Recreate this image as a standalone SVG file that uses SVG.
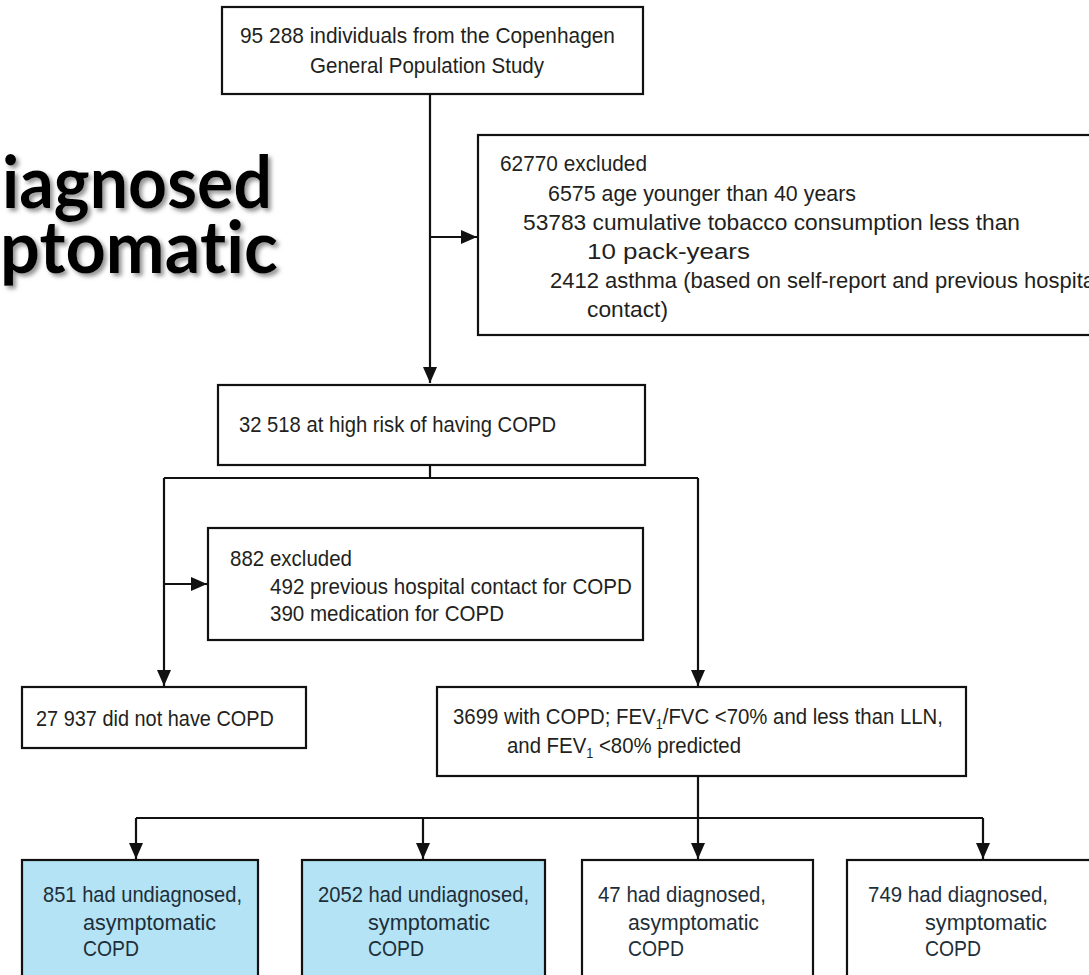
<svg xmlns="http://www.w3.org/2000/svg" width="1089" height="975" viewBox="0 0 1089 975">
<defs>
<style>
.box{fill:#fff;stroke:#111;stroke-width:2.2}
.blue{fill:#b3e3f5;stroke:#111;stroke-width:2.2}
.t{font-family:"Liberation Sans",Arial,sans-serif;font-size:22.5px;fill:#231f20}
.tb{font-family:"Liberation Sans",Arial,sans-serif;font-size:22px;fill:#1e2e38}
.big{font-family:Lato,"Open Sans",sans-serif;font-weight:bold;font-size:72px;fill:#000;font-variant-ligatures:none}
.ln{fill:none;stroke:#111;stroke-width:2.2}
.sub{font-size:14px;fill:#231f20}
</style>
<marker id="ah" markerUnits="userSpaceOnUse" markerWidth="16" markerHeight="16" viewBox="0 0 16 16" refX="16" refY="8" orient="auto">
<path d="M0,1 L16,8 L0,15 Z" fill="#111"/>
</marker>
<filter id="sh" x="-10%" y="-20%" width="130%" height="150%">
<feDropShadow dx="3" dy="3" stdDeviation="2" flood-color="#777" flood-opacity="0.8"/>
</filter>
</defs>

<g id="title" filter="url(#sh)">
<text class="big" x="2" y="208" textLength="270" lengthAdjust="spacingAndGlyphs">iagnosed</text>
<text class="big" x="0" y="273" textLength="278" lengthAdjust="spacingAndGlyphs">ptomatic</text>
</g>

<g id="connectors">
<path class="ln" d="M430,94 V383" marker-end="url(#ah)"/>
<path class="ln" d="M430,237 H477" marker-end="url(#ah)"/>
<path class="ln" d="M430,465 V478 M164,478 H698"/>
<path class="ln" d="M164,478 V686" marker-end="url(#ah)"/>
<path class="ln" d="M698,478 V686" marker-end="url(#ah)"/>
<path class="ln" d="M164,584 H207" marker-end="url(#ah)"/>
<path class="ln" d="M698,776 V818 M136,818 H983"/>
<path class="ln" d="M136,818 V859" marker-end="url(#ah)"/>
<path class="ln" d="M423,818 V859" marker-end="url(#ah)"/>
<path class="ln" d="M698,818 V859" marker-end="url(#ah)"/>
<path class="ln" d="M983,818 V859" marker-end="url(#ah)"/>
</g>

<g id="n-start">
<rect class="box" x="222" y="7" width="421" height="87"/>
<text class="t" x="240" y="43" textLength="375" lengthAdjust="spacingAndGlyphs">95 288 individuals from the Copenhagen</text>
<text class="t" x="310" y="73" textLength="234" lengthAdjust="spacingAndGlyphs">General Population Study</text>
</g>

<g id="n-excl1">
<rect class="box" x="478" y="135" width="616" height="200"/>
<text class="t" x="500" y="171" textLength="147" lengthAdjust="spacingAndGlyphs">62770 excluded</text>
<text class="t" x="548" y="201" textLength="308" lengthAdjust="spacingAndGlyphs">6575 age younger than 40 years</text>
<text class="t" x="523" y="230" textLength="497" lengthAdjust="spacingAndGlyphs">53783 cumulative tobacco consumption less than</text>
<text class="t" x="587" y="259" textLength="163" lengthAdjust="spacingAndGlyphs">10 pack-years</text>
<text class="t" x="550" y="288" textLength="545" lengthAdjust="spacingAndGlyphs">2412 asthma (based on self-report and previous hospita</text>
<text class="t" x="587" y="317" textLength="81" lengthAdjust="spacingAndGlyphs">contact)</text>
</g>

<g id="n-risk">
<rect class="box" x="218" y="385" width="427" height="80"/>
<text class="t" x="239" y="432" textLength="317" lengthAdjust="spacingAndGlyphs">32 518 at high risk of having COPD</text>
</g>

<g id="n-excl2">
<rect class="box" x="208" y="528" width="435" height="112"/>
<text class="t" x="230" y="566" textLength="122" lengthAdjust="spacingAndGlyphs">882 excluded</text>
<text class="t" x="270" y="594" textLength="362" lengthAdjust="spacingAndGlyphs">492 previous hospital contact for COPD</text>
<text class="t" x="270" y="621" textLength="234" lengthAdjust="spacingAndGlyphs">390 medication for COPD</text>
</g>

<g id="n-nocopd">
<rect class="box" x="22" y="687" width="284" height="61"/>
<text class="t" x="36" y="726" textLength="238" lengthAdjust="spacingAndGlyphs">27 937 did not have COPD</text>
</g>

<g id="n-copd">
<rect class="box" x="437" y="687" width="529" height="89"/>
<text class="t" x="453" y="724" textLength="490" lengthAdjust="spacingAndGlyphs">3699 with COPD; FEV<tspan class="sub" dy="5">1</tspan><tspan dy="-5">/FVC &lt;70% and less than LLN,</tspan></text>
<text class="t" x="507" y="753" textLength="234" lengthAdjust="spacingAndGlyphs">and FEV<tspan class="sub" dy="5">1</tspan><tspan dy="-5"> &lt;80% predicted</tspan></text>
</g>

<g id="n-ua">
<rect class="blue" x="22" y="860" width="236" height="120"/>
<text class="tb" x="43" y="902" textLength="199" lengthAdjust="spacingAndGlyphs">851 had undiagnosed,</text>
<text class="tb" x="83" y="930" textLength="133" lengthAdjust="spacingAndGlyphs">asymptomatic</text>
<text class="tb" x="83" y="956" textLength="56" lengthAdjust="spacingAndGlyphs">COPD</text>
</g>

<g id="n-us">
<rect class="blue" x="302" y="860" width="243" height="120"/>
<text class="tb" x="318" y="902" textLength="211" lengthAdjust="spacingAndGlyphs">2052 had undiagnosed,</text>
<text class="tb" x="368" y="930" textLength="122" lengthAdjust="spacingAndGlyphs">symptomatic</text>
<text class="tb" x="368" y="956" textLength="56" lengthAdjust="spacingAndGlyphs">COPD</text>
</g>

<g id="n-da">
<rect class="box" x="582" y="860" width="231" height="120"/>
<text class="tb" x="598" y="902" textLength="168" lengthAdjust="spacingAndGlyphs">47 had diagnosed,</text>
<text class="tb" x="628" y="930" textLength="131" lengthAdjust="spacingAndGlyphs">asymptomatic</text>
<text class="tb" x="628" y="956" textLength="56" lengthAdjust="spacingAndGlyphs">COPD</text>
</g>

<g id="n-ds">
<rect class="box" x="847" y="860" width="250" height="120"/>
<text class="tb" x="868" y="902" textLength="180" lengthAdjust="spacingAndGlyphs">749 had diagnosed,</text>
<text class="tb" x="925" y="930" textLength="122" lengthAdjust="spacingAndGlyphs">symptomatic</text>
<text class="tb" x="925" y="956" textLength="56" lengthAdjust="spacingAndGlyphs">COPD</text>
</g>
</svg>
